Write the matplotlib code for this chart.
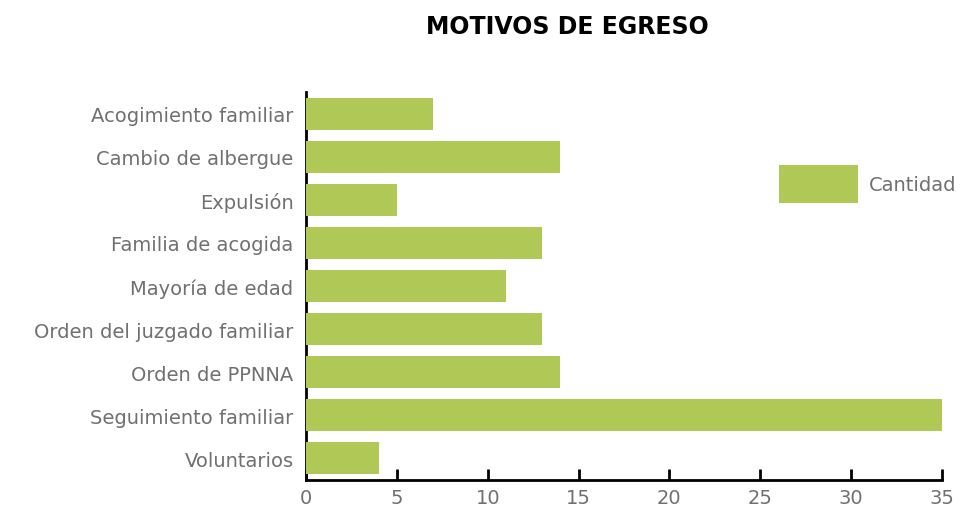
import matplotlib.pyplot as plt

# data
categories = ['Acogimiento familiar', 'Cambio de albergue', 'Expulsión',
              'Familia de acogida', 'Mayoría de edad', 'Orden del juzgado familiar',
              'Orden de PPNNA', 'Seguimiento familiar', 'Voluntarios']
cantidad = [7, 14, 5, 13, 11, 13, 14, 35, 4]
xticks = [0, 5, 10, 15, 20, 25, 30, 35]

bar_color = '#b0c956'
text_color = '#707070'

plt.rcParams['font.family'] = ['DejaVu Sans']

fig = plt.figure(figsize=(9.67, 5.10), dpi=100)
ax = fig.add_axes([306 / 967, 1 - 481 / 510, 636 / 967, 388 / 510])

y = list(range(len(categories)))
ax.barh(y, cantidad, height=0.74, color=bar_color, label='Cantidad', zorder=3)

ax.set_ylim(len(categories) - 0.5, -0.5)
ax.set_xlim(0, 35)
ax.set_yticks(y)
ax.set_yticklabels(categories)
ax.set_xticks(xticks)

ax.tick_params(axis='y', length=0, pad=9, labelsize=14, labelcolor=text_color)
ax.tick_params(axis='x', direction='in', length=8, width=2, pad=6, labelsize=14, labelcolor=text_color)

for side in ['top', 'right']:
    ax.spines[side].set_visible(False)
for side in ['left', 'bottom']:
    ax.spines[side].set_linewidth(2)

fig.text(567 / 967, 1 - 27 / 510, 'MOTIVOS DE EGRESO', ha='center', va='center',
         fontsize=17, fontweight='bold', color='black')

leg = ax.legend(loc='upper left', bbox_to_anchor=(769 / 967, 1 - 156 / 510),
                bbox_transform=fig.transFigure, frameon=False, borderpad=0,
                handlelength=4.1, handleheight=2.65, handletextpad=0.55, fontsize=14)
for t in leg.get_texts():
    t.set_color(text_color)

fig.savefig('out.png', dpi=100)
